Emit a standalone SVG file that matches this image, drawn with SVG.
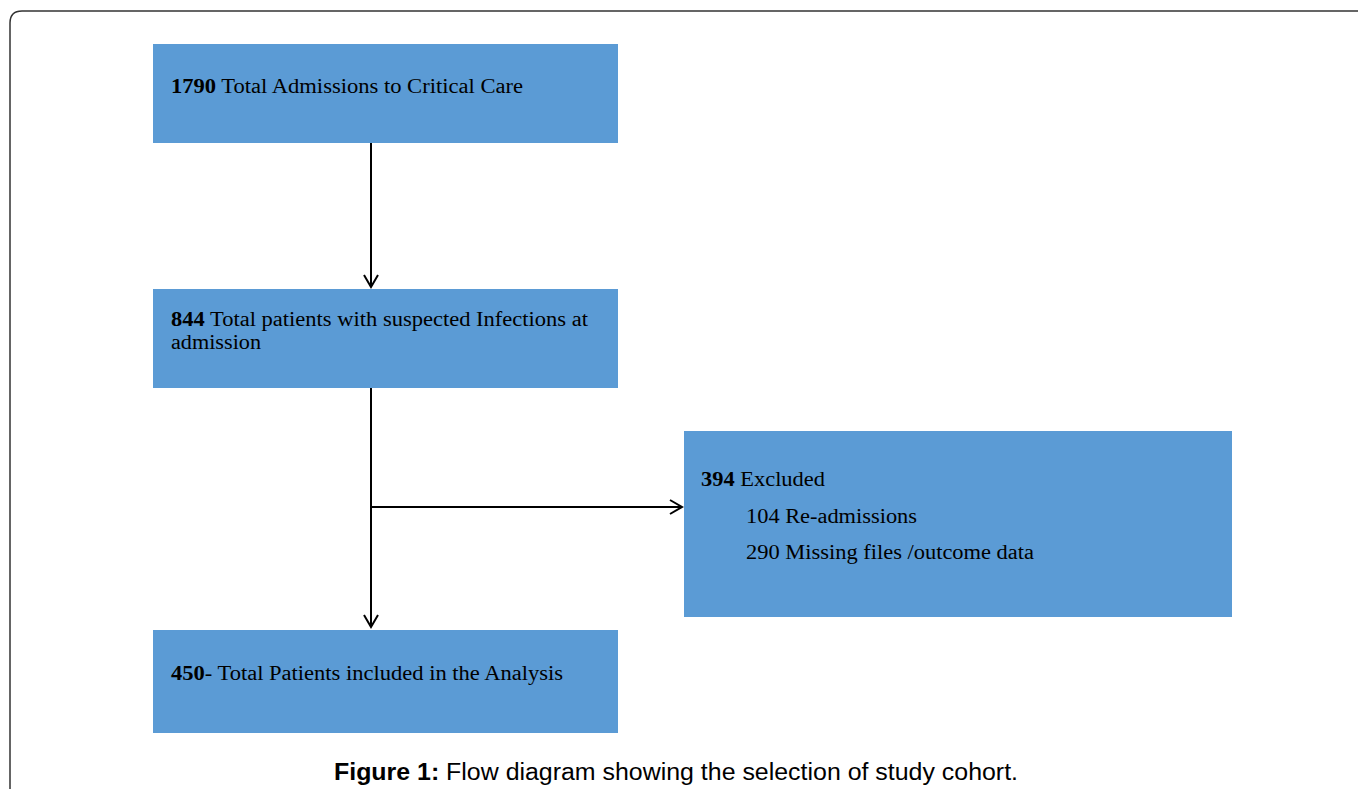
<svg xmlns="http://www.w3.org/2000/svg" width="1358" height="789" viewBox="0 0 1358 789">
<defs>
<style>
.box{fill:#5B9BD5;}
.t{font-family:"Liberation Serif","Times New Roman",serif;font-size:20px;fill:#000;}
.b{font-weight:bold;}
.conn{stroke:#000;stroke-width:2;fill:none;}
.cap{font-family:"Liberation Sans",Arial,sans-serif;font-size:23px;fill:#000;}
</style>
<marker id="arr" markerWidth="20" markerHeight="20" refX="16" refY="8" orient="auto" markerUnits="userSpaceOnUse">
<path d="M4,1 L16,8 L4,15" fill="none" stroke="#000" stroke-width="2"/>
</marker>
</defs>
<rect width="1358" height="789" fill="#fff"/>
<path d="M10,800 L10,23 Q10,11 22,11 L1370,11" fill="none" stroke="#333" stroke-width="1.5"/>
<g id="n1">
<rect class="box" x="153" y="44" width="465" height="99"/>
<text class="t" x="171" y="93" textLength="352" lengthAdjust="spacingAndGlyphs"><tspan class="b">1790</tspan> Total Admissions to Critical Care</text>
</g>
<g id="n2">
<rect class="box" x="153" y="289" width="465" height="99"/>
<text class="t" x="171" y="326" textLength="417" lengthAdjust="spacingAndGlyphs"><tspan class="b">844</tspan> Total patients with suspected Infections at</text>
<text class="t" x="171" y="349" textLength="90" lengthAdjust="spacingAndGlyphs">admission</text>
</g>
<g id="n3">
<rect class="box" x="684" y="431" width="548" height="186"/>
<text class="t" x="701" y="486" textLength="124" lengthAdjust="spacingAndGlyphs"><tspan class="b">394</tspan> Excluded</text>
<text class="t" x="746" y="523" textLength="171" lengthAdjust="spacingAndGlyphs">104 Re-admissions</text>
<text class="t" x="746" y="559" textLength="288" lengthAdjust="spacingAndGlyphs">290 Missing files /outcome data</text>
</g>
<g id="n4">
<rect class="box" x="153" y="630" width="465" height="103"/>
<text class="t" x="171" y="680" textLength="392" lengthAdjust="spacingAndGlyphs"><tspan class="b">450</tspan>- Total Patients included in the Analysis</text>
</g>
<g id="connectors">
<line class="conn" x1="371" y1="143" x2="371" y2="287" marker-end="url(#arr)"/>
<line class="conn" x1="371" y1="388" x2="371" y2="627" marker-end="url(#arr)"/>
<line class="conn" x1="371" y1="507" x2="682" y2="507" marker-end="url(#arr)"/>
</g>
<text class="cap" x="334" y="780" textLength="684" lengthAdjust="spacingAndGlyphs"><tspan font-weight="bold">Figure 1:</tspan> Flow diagram showing the selection of study cohort.</text>
</svg>
